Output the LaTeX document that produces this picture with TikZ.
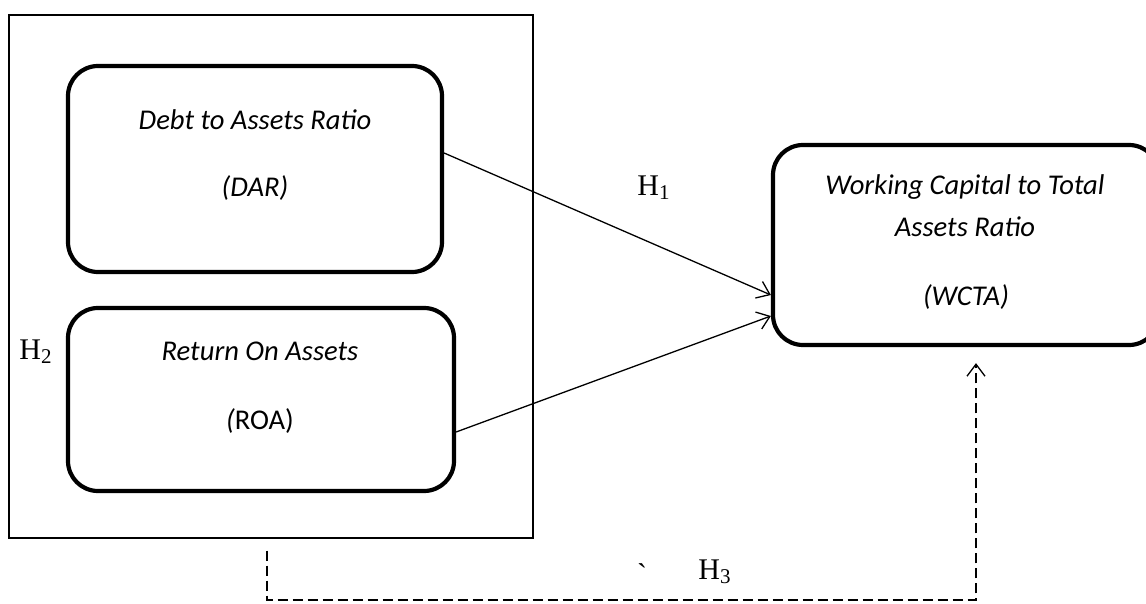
\documentclass[tikz,border=0pt]{standalone}
\usepackage{fontspec}
\setmainfont{Carlito}
\newfontfamily\timesfont[Ligatures=TeXOff]{Liberation Serif}
\usetikzlibrary{arrows.meta}

\begin{document}
\begin{tikzpicture}[x=0.5pt,y=-0.5pt,
    var/.style={draw=black,line width=2.1pt,rounded corners=15pt},
    vartext/.style={font=\fontsize{14.3}{17}\selectfont\itshape},
    hyp/.style={font=\timesfont\fontsize{15}{18}\selectfont},
    link/.style={line width=0.65pt},
    >={Straight Barb[length=6pt,width=9pt]}]
        \useasboundingbox (0,0) rectangle (1146,604);

        \node[draw=black,line width=0.65pt,minimum width=262pt,minimum height=261.5pt] (grp) at (271,276.5) {};
        \node[var,minimum width=187pt,minimum height=103pt] (dar) at (255,169) {};
        \node[var,minimum width=193pt,minimum height=91.5pt] (roa) at (261,399.5) {};
        \node[var,minimum width=193pt,minimum height=100pt] (wcta) at (966,245) {};

        \node[vartext] (darname) at (255,120) {Debt to Assets Ratio};
        \node[vartext] (darabbr) at (255,188) {(DAR)};
        \node[vartext] (roaname) at (260,351) {Return On Assets};
        \node[vartext] (roaabbr) at (260,421) {(\upshape ROA)};
        \node[vartext] (wctaname) at (965,187) {Working Capital to Total};
        \node[vartext] (wctaname2) at (965,227) {Assets Ratio};
        \node[vartext] (wctaabbr) at (966,297) {(WCTA)};

        \node[hyp] (h1) at (654,188) {H\textsubscript{1}};
        \node[hyp] (h2) at (36,352) {H\textsubscript{2}};
        \node[hyp] (h3) at (715,572) {H\textsubscript{3}};
        \node[hyp] (tick) at (642,574) {\symbol{96}};

        \coordinate (corner) at (976,600);

        \draw [->,link] ([yshift=8pt]dar.east) -- ([yshift=-25pt]wcta.west);
        \draw [->,link] ([yshift=-16.25pt]roa.east) -- ([yshift=-35.5pt]wcta.west);
        \draw [->,link,dash pattern=on 5pt off 2.5pt,shorten <=6pt,shorten >=8pt]
            ([xshift=-2pt]grp.south) |- (corner) -- (corner |- wcta.south);
    \end{tikzpicture}
\end{document}
